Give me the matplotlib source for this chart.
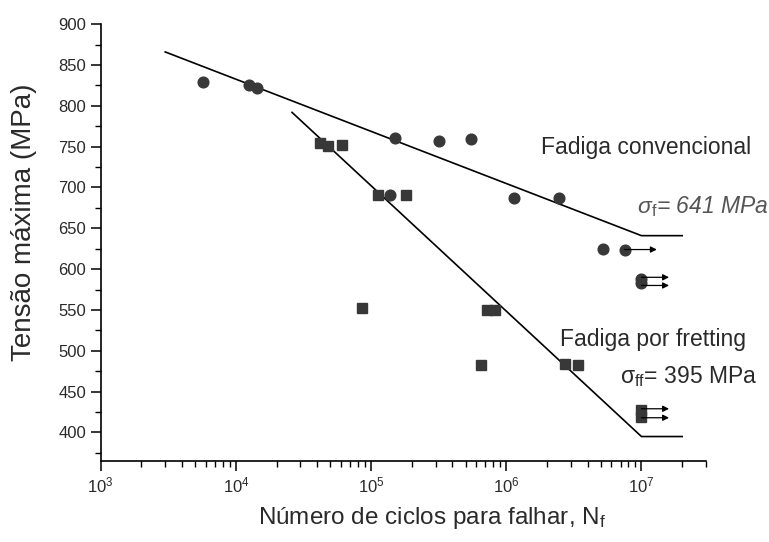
import numpy as np
import matplotlib
matplotlib.use("Agg")
import matplotlib.pyplot as plt
from matplotlib.ticker import MultipleLocator, LogLocator

plt.rcParams['font.family'] = ['Liberation Sans', 'DejaVu Sans']
plt.rcParams['mathtext.fontset'] = 'custom'
plt.rcParams['mathtext.rm'] = 'Liberation Sans'
plt.rcParams['mathtext.it'] = 'Liberation Sans:italic'

# ensaios de fadiga convencional (circulos)
conv_N = [5.7e3, 1.26e4, 1.42e4, 1.38e5, 1.5e5, 3.2e5, 5.5e5, 1.15e6, 2.45e6, 5.2e6, 7.5e6, 1e7, 1e7]
conv_S = [829, 826, 822, 691, 761, 757, 759, 687, 687, 625, 624, 588, 583]

# ensaios de fadiga por fretting (quadrados)
fret_N = [4.2e4, 4.8e4, 6.1e4, 1.13e5, 1.8e5, 8.5e4, 7.2e5, 8.2e5, 6.5e5, 2.7e6, 3.4e6, 1e7, 1e7]
fret_S = [755, 751, 752, 691, 691, 552, 550, 550, 483, 484, 483, 427, 419]

# curvas S-N
conv_line_N = [3e3, 1e7, 2e7]
conv_line_S = [866, 641, 641]
fret_line_N = [2.6e4, 1e7, 2e7]
fret_line_S = [792, 395, 395]

# run-outs (sem ruptura): inicio, fim, tensao
runout_start = [7.5e6, 1e7, 1e7, 1e7, 1e7]
runout_end = [1.3e7, 1.6e7, 1.6e7, 1.6e7, 1.6e7]
runout_S = [624, 590, 580, 429, 418]

fig = plt.figure(figsize=(7.69, 5.42), dpi=100)
ax = fig.add_axes([0.131, 0.1494, 0.787, 0.806])

ax.plot(conv_line_N, conv_line_S, color='black', lw=1.2)
ax.plot(fret_line_N, fret_line_S, color='black', lw=1.2)

ax.plot(conv_N, conv_S, 'o', ms=7.7, color='#383838', mec='#383838', ls='none')
ax.plot(fret_N, fret_S, 's', ms=7.2, color='#383838', mec='#383838', ls='none')

for x0, x1, s in zip(runout_start, runout_end, runout_S):
    ax.annotate('', xy=(x1, s), xytext=(x0, s),
                arrowprops=dict(arrowstyle='-|>', color='black', lw=0.9,
                                mutation_scale=9, shrinkA=0, shrinkB=0))

ax.set_xscale('log')
ax.set_xlim(1e3, 3e7)
ax.set_ylim(365, 900)

ax.yaxis.set_major_locator(MultipleLocator(50))
ax.yaxis.set_minor_locator(MultipleLocator(25))
ax.xaxis.set_major_locator(LogLocator(base=10, numticks=10))
ax.xaxis.set_minor_locator(LogLocator(base=10, subs=np.arange(2, 10), numticks=20))

for side in ['top', 'right']:
    ax.spines[side].set_visible(False)
for side in ['left', 'bottom']:
    ax.spines[side].set_linewidth(1.2)

ax.tick_params(which='major', direction='out', length=7, width=1.1,
               labelsize=12, labelcolor='#2a2a2a')
ax.tick_params(which='minor', direction='out', length=4, width=1.0)

fig.text(24 / 769, 1 - 222 / 542, 'Tensão máxima (MPa)', rotation=90,
         ha='center', va='center', fontsize=20, color='#2a2a2a')
fig.text(432 / 769, 1 - 518 / 542, 'Número de ciclos para falhar, N$_\\mathrm{f}$',
         ha='center', va='center', fontsize=17.5, color='#2a2a2a')

ax.text(1.8e6, 749, 'Fadiga convencional', fontsize=16.5, color='#2a2a2a',
        ha='left', va='center')
ax.text(9.2e6, 677, 'σ$_\\mathrm{f}$= 641 MPa', fontsize=16.5, color='#555555',
        ha='left', va='center', style='italic', clip_on=False)
ax.text(2.5e6, 514, 'Fadiga por fretting', fontsize=16.5, color='#2a2a2a',
        ha='left', va='center')
ax.text(6.9e6, 469, 'σ$_\\mathrm{ff}$= 395 MPa', fontsize=16.5, color='#2a2a2a',
        ha='left', va='center', clip_on=False)

fig.savefig('out.png', dpi=100)
